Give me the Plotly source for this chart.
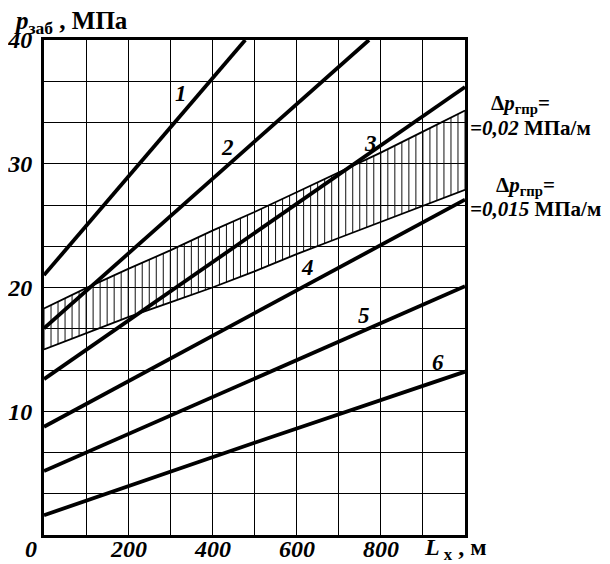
import numpy as np
import plotly.graph_objects as go

# ---- data ----
x_line = [0, 500, 1000]
line1_x = [0, 478]
line1_y = [21.0, 40.0]
line2_x = [0, 772]
line2_y = [16.7, 40.0]
line3_y = [12.6, 24.4, 36.2]
line4_y = [8.75, 17.9, 27.1]
line5_y = [5.17, 12.6, 20.1]
line6_y = [1.6, 7.45, 13.2]

band_x = [0, 100, 200, 300, 400, 500, 600, 700, 800, 900, 1000]
band_upper = [18.3, 19.95, 21.5, 23.0, 24.6, 26.1, 27.7, 29.3, 30.9, 32.6, 34.3]   # 0.02 MPa/m
band_lower = [15.0, 16.3, 17.6, 18.8, 20.0, 21.3, 22.7, 24.0, 25.3, 26.6, 27.9]    # 0.015 MPa/m

curve_labels = ["1", "2", "3", "4", "5", "6"]
curve_label_x = [325, 435, 775, 625, 760, 935]
curve_label_y = [35.7, 31.3, 31.6, 21.6, 17.7, 13.9]

x_tickvals = [200, 400, 600, 800]
x_ticktext = ["200", "400", "600", "800"]
y_tickvals = [10, 20, 30, 40]
y_ticktext = ["10", "20", "30", "40"]
x_grid_step = 100
y_grid_step = 10 / 3

BI = dict(family="Liberation Serif", size=24, color="black", weight="bold", style="italic")
B = dict(family="Liberation Serif", size=21, color="black", weight="bold")

fig = go.Figure()

# hatching of the band
hx = np.arange(0, 1000.001, 100 / 6)
hu = np.interp(hx, band_x, band_upper)
hl = np.interp(hx, band_x, band_lower)
xs, ys = [], []
for a, u, l in zip(hx, hu, hl):
    xs += [a, a, None]
    ys += [l, u, None]
fig.add_trace(go.Scatter(x=xs, y=ys, mode="lines", line=dict(color="#111", width=1), hoverinfo="skip"))

# band boundaries
fig.add_trace(go.Scatter(x=band_x, y=band_upper, mode="lines", line=dict(color="black", width=1.8)))
fig.add_trace(go.Scatter(x=band_x, y=band_lower, mode="lines", line=dict(color="black", width=1.8)))

# curves
thick = dict(color="black", width=3.8)
fig.add_trace(go.Scatter(x=line1_x, y=line1_y, mode="lines", line=thick))
fig.add_trace(go.Scatter(x=line2_x, y=line2_y, mode="lines", line=thick))
for yy in [line3_y, line4_y, line5_y, line6_y]:
    fig.add_trace(go.Scatter(x=x_line, y=yy, mode="lines", line=thick))

anns = []
for t, ax, ay in zip(curve_labels, curve_label_x, curve_label_y):
    anns.append(dict(x=ax, y=ay, xref="x", yref="y", text=t, showarrow=False,
                     font=dict(BI, size=23)))

# x tick labels placed close under the axis
for v, t in zip(x_tickvals, x_ticktext):
    anns.append(dict(x=v, y=0, xref="x", yref="paper", xanchor="center", yanchor="middle",
                     yshift=-14, text=t, showarrow=False, font=BI))

anns += [
    dict(x=0, y=0, xref="paper", yref="paper", xanchor="center", yanchor="middle",
         xshift=-13, yshift=-14, text="0", showarrow=False, font=BI),
    dict(x=0, y=1.0, xref="paper", yref="paper", xanchor="left", yanchor="bottom",
         xshift=-32, yshift=0,
         text="<i>p</i><sub>заб</sub> , МПа", showarrow=False,
         font=dict(family="Liberation Serif", size=25, color="black", weight="bold")),
    dict(x=1.0, y=0, xref="paper", yref="paper", xanchor="right", yanchor="middle",
         xshift=24, yshift=-14,
         text="<i>L</i><sub> х</sub> , м", showarrow=False,
         font=dict(family="Liberation Serif", size=24, color="black", weight="bold")),
    dict(x=1.0, y=34.8, xref="paper", yref="y", xanchor="left", yanchor="middle", xshift=24,
         text="Δ<i>p</i><sub>гпр</sub>=", showarrow=False, font=B),
    dict(x=1.0, y=32.9, xref="paper", yref="y", xanchor="left", yanchor="middle", xshift=3,
         text="<i>=0,02</i> МПа/м", showarrow=False, font=B),
    dict(x=1.0, y=28.2, xref="paper", yref="y", xanchor="left", yanchor="middle", xshift=29,
         text="Δ<i>p</i><sub>гпр</sub>=", showarrow=False, font=B),
    dict(x=1.0, y=26.35, xref="paper", yref="y", xanchor="left", yanchor="middle", xshift=3,
         text="<i>=0,015</i> МПа/м", showarrow=False, font=B),
]

# the page body adds an 8 px margin, so the figure is sized 602x556 and offset accordingly
fig.update_layout(
    width=602, height=556,
    margin=dict(l=36, r=145, t=32, b=29),
    paper_bgcolor="white", plot_bgcolor="white",
    showlegend=False,
    annotations=anns,
)
fig.update_xaxes(range=[0, 1000], tickmode="array", tickvals=x_tickvals,
                 showticklabels=False,
                 showgrid=True, gridcolor="black", gridwidth=1.4, zeroline=False,
                 minor=dict(tick0=0, dtick=x_grid_step, showgrid=True, gridcolor="black", gridwidth=1.4),
                 showline=True, linecolor="black", linewidth=3, mirror=True, automargin=False,
                 ticks="")
fig.update_yaxes(range=[0, 40], tickmode="array", tickvals=y_tickvals, ticktext=y_ticktext,
                 showgrid=True, gridcolor="black", gridwidth=1.4, zeroline=False,
                 minor=dict(tick0=0, dtick=y_grid_step, showgrid=True, gridcolor="black", gridwidth=1.4),
                 showline=True, linecolor="black", linewidth=3, mirror=True, automargin=False,
                 ticks="", tickfont=BI, ticklabelstandoff=4)

fig.write_html("out.html")
